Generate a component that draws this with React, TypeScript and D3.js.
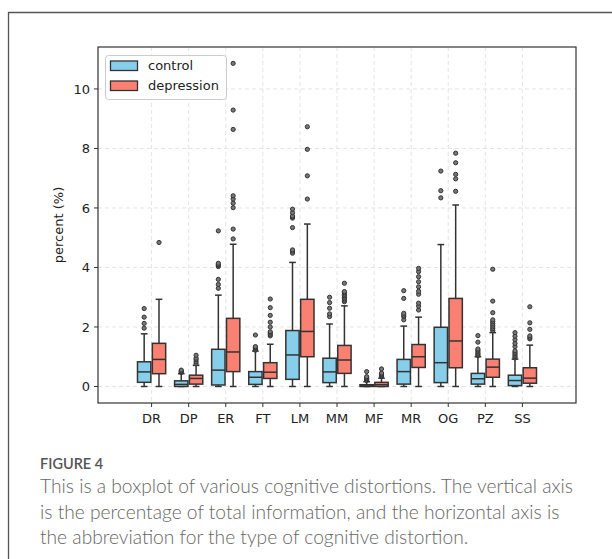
import React from "react";
import * as d3 from "d3";

const categories = ["DR", "DP", "ER", "FT", "LM", "MM", "MF", "MR", "OG", "PZ", "SS"];
const yTicks = [0, 2, 4, 6, 8, 10];

// [whiskerLow, q1, median, q3, whiskerHigh]
const controlStats: number[][] = [
  [0, 0.14, 0.49, 0.83, 1.77],
  [0, 0.0, 0.07, 0.19, 0.43],
  [0, 0.05, 0.55, 1.25, 3.07],
  [0, 0.07, 0.31, 0.5, 1.19],
  [0, 0.24, 1.06, 1.88, 4.17],
  [0, 0.13, 0.49, 0.95, 2.1],
  [0, 0.0, 0.02, 0.06, 0.16],
  [0, 0.08, 0.5, 0.91, 2.03],
  [0, 0.13, 0.8, 1.99, 4.77],
  [0, 0.08, 0.26, 0.44, 1.0],
  [0, 0.03, 0.2, 0.38, 0.92],
];
const controlOutliers: number[][] = [
  [1.96, 2.12, 2.33, 2.62],
  [0.47, 0.5, 0.52, 0.55],
  [3.3, 3.43, 3.6, 4.03, 4.07, 4.1, 4.14, 5.23],
  [1.22, 1.25, 1.28, 1.31, 1.34, 1.73],
  [4.48, 4.55, 4.59, 5.34, 5.66, 5.7, 5.73, 5.84, 5.96],
  [2.35, 2.44, 2.63, 2.82, 3.0],
  [0.2, 0.23, 0.26, 0.29, 0.33, 0.5],
  [2.24, 2.35, 2.4, 2.46, 2.96, 3.22],
  [6.34, 6.58, 7.24],
  [1.04, 1.08, 1.12, 1.17, 1.22, 1.26, 1.49, 1.71],
  [0.96, 1.0, 1.05, 1.1, 1.15, 1.2, 1.34, 1.45, 1.57, 1.69, 1.81],
];
const depressionStats: number[][] = [
  [0, 0.43, 0.91, 1.45, 2.93],
  [0, 0.08, 0.27, 0.38, 0.71],
  [0, 0.5, 1.16, 2.29, 4.78],
  [0, 0.27, 0.48, 0.8, 1.42],
  [0, 1.0, 1.85, 2.93, 5.46],
  [0, 0.44, 0.89, 1.38, 2.71],
  [0, 0.0, 0.06, 0.14, 0.28],
  [0, 0.64, 1.0, 1.41, 2.33],
  [0, 0.63, 1.53, 2.96, 6.1],
  [0, 0.31, 0.65, 0.92, 1.81],
  [0, 0.11, 0.28, 0.63, 1.39],
];
const depressionOutliers: number[][] = [
  [4.84],
  [0.76, 0.83, 0.9, 0.95, 1.05],
  [4.96, 5.29, 6.01, 6.16, 6.3, 6.41, 8.64, 9.29, 10.86],
  [1.7, 1.75, 1.8, 1.84, 2.0, 2.16, 2.39, 2.65, 2.94],
  [6.3, 7.08, 7.97, 8.73],
  [2.85, 2.9, 2.95, 3.0, 3.05, 3.1, 3.15, 3.19, 3.47],
  [0.33, 0.36, 0.39, 0.42, 0.45, 0.59],
  [2.57, 2.7, 2.8, 3.1, 3.2, 3.35, 3.52, 3.69, 3.86, 3.97],
  [6.56, 6.98, 7.13, 7.52, 7.84],
  [1.88, 1.94, 2.0, 2.06, 2.12, 2.18, 2.24, 2.48, 2.87, 3.94],
  [1.6, 1.65, 1.7, 1.92, 2.14, 2.68],
];

const seriesNames = ["control", "depression"];
const seriesColors = ["#87CEEB", "#FA8072"];

const captionTitle = "FIGURE 4";
const captionLines = [
  "This is a boxplot of various cognitive distortions. The vertical axis",
  "is the percentage of total information, and the horizontal axis is",
  "the abbreviation for the type of cognitive distortion.",
];

const W = 612;
const H = 559;
const plot = { left: 98, right: 576, top: 47, bottom: 403 };

export default function App() {
  const x = d3.scaleLinear().domain([-1.445, 11.445]).range([plot.left, plot.right]);
  const y = d3.scaleLinear().domain([-0.555, 11.41]).range([plot.bottom, plot.top]);
  const unit = x(1) - x(0);
  const halfBox = 0.18 * unit;
  const offset = 0.2 * unit;
  const tickFont = "DejaVu Sans, sans-serif";
  const ink = "#333";

  const renderBox = (stats: number[], outs: number[], cx: number, color: string, key: string) => {
    const [lo, q1, med, q3, hi] = stats;
    return (
      <g key={key}>
        <line x1={cx} x2={cx} y1={y(q3)} y2={y(hi)} stroke={ink} strokeWidth={1.5} />
        <line x1={cx} x2={cx} y1={y(q1)} y2={y(lo)} stroke={ink} strokeWidth={1.5} />
        <line x1={cx - halfBox / 2} x2={cx + halfBox / 2} y1={y(hi)} y2={y(hi)} stroke={ink} strokeWidth={1.5} />
        <line x1={cx - halfBox / 2} x2={cx + halfBox / 2} y1={y(lo)} y2={y(lo)} stroke={ink} strokeWidth={1.5} />
        <rect x={cx - halfBox} y={y(q3)} width={2 * halfBox} height={Math.max(0.5, y(q1) - y(q3))} fill={color} stroke={ink} strokeWidth={1.5} />
        <line x1={cx - halfBox} x2={cx + halfBox} y1={y(med)} y2={y(med)} stroke={ink} strokeWidth={1.5} />
        {outs.map((o, i) => (
          <circle key={i} cx={cx} cy={y(o)} r={2.1} fill="#777" stroke={ink} strokeWidth={1} />
        ))}
      </g>
    );
  };

  return (
    <svg width={W} height={H} style={{ position: "absolute", left: 0, top: 0, background: "#fff" }}>
      <rect x={0} y={0} width={W} height={H} fill="#fff" />
      {/* outer frame */}
      <path d={`M8.5,${H} L8.5,12.5 L${W},12.5`} fill="none" stroke="#555" strokeWidth={1.3} />

      {/* grid */}
      {categories.map((c, i) => (
        <line key={"gx" + c} x1={x(i)} x2={x(i)} y1={plot.top} y2={plot.bottom} stroke="#ddd" strokeWidth={0.8} strokeDasharray="4,3" />
      ))}
      {yTicks.map((t) => (
        <line key={"gy" + t} x1={plot.left} x2={plot.right} y1={y(t)} y2={y(t)} stroke="#ddd" strokeWidth={0.8} strokeDasharray="4,3" />
      ))}

      {/* boxes */}
      {categories.map((c, i) => (
        <g key={c}>
          {renderBox(controlStats[i], controlOutliers[i], x(i) - offset, seriesColors[0], c + "c")}
          {renderBox(depressionStats[i], depressionOutliers[i], x(i) + offset, seriesColors[1], c + "d")}
        </g>
      ))}

      {/* frame */}
      <rect x={plot.left} y={plot.top} width={plot.right - plot.left} height={plot.bottom - plot.top} fill="none" stroke="#333" strokeWidth={1.2} />

      {/* y axis */}
      {yTicks.map((t) => (
        <g key={"yt" + t}>
          <line x1={plot.left - 4} x2={plot.left} y1={y(t)} y2={y(t)} stroke="#333" strokeWidth={1} />
          <text x={plot.left - 8} y={y(t)} dy="0.35em" textAnchor="end" fontFamily={tickFont} fontSize={13} fill="#222">
            {t}
          </text>
        </g>
      ))}
      <text transform={`translate(63,${(plot.top + plot.bottom) / 2}) rotate(-90)`} textAnchor="middle" fontFamily={tickFont} fontSize={13} fill="#222">
        percent (%)
      </text>

      {/* x axis */}
      {categories.map((c, i) => (
        <g key={"xt" + c}>
          <line x1={x(i)} x2={x(i)} y1={plot.bottom} y2={plot.bottom + 4} stroke="#333" strokeWidth={1} />
          <text x={x(i)} y={plot.bottom + 20} textAnchor="middle" fontFamily={tickFont} fontSize={13} fill="#222">
            {c}
          </text>
        </g>
      ))}

      {/* legend */}
      <rect x={105.5} y={55.5} width={121} height={44} rx={3} fill="#fff" fillOpacity={0.85} stroke="#ccc" />
      {seriesNames.map((s, i) => (
        <g key={s}>
          <rect x={110.5} y={61 + i * 20} width={27} height={9.5} fill={seriesColors[i]} stroke={ink} strokeWidth={1.3} />
          <text x={148} y={70 + i * 20} fontFamily={tickFont} fontSize={13} fill="#222">
            {s}
          </text>
        </g>
      ))}

      {/* caption */}
      <text x={40} y={469} fontFamily="Lato, 'Open Sans', sans-serif" fontSize={14.5} fontWeight={600} fill="#555">
        {captionTitle}
      </text>
      {captionLines.map((l, i) => (
        <text key={i} x={40} y={493 + i * 25.5} fontFamily="Lato, 'Open Sans', sans-serif" fontSize={19.2} fontWeight={300} fill="#666">
          {l}
        </text>
      ))}
    </svg>
  );
}
